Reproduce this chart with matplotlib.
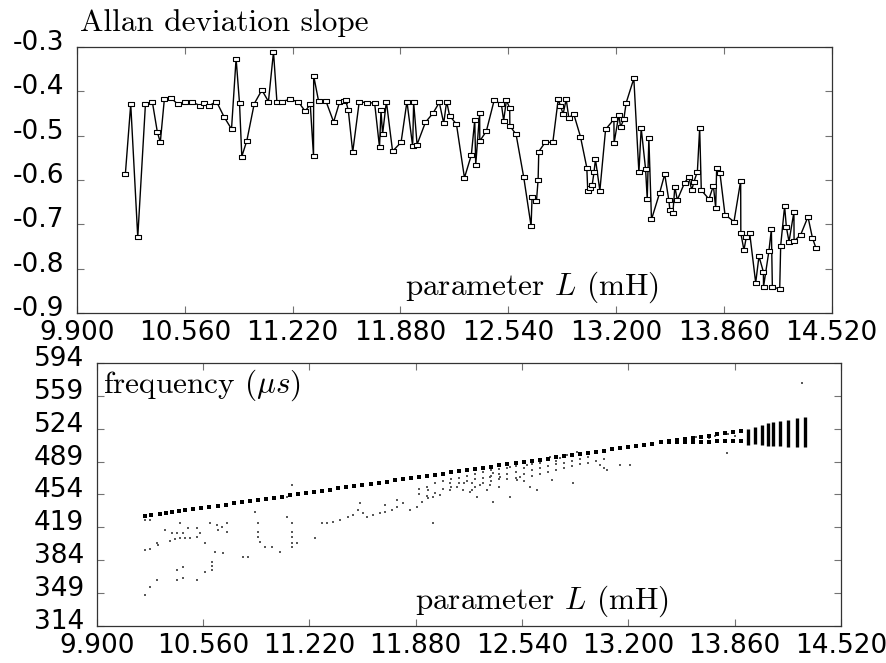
'''
Allan deviation slope and frequency vs parameter L
'''

import matplotlib as mpl
import matplotlib.pyplot as plt
from matplotlib.path import Path
from matplotlib.transforms import ScaledTranslation

mpl.rcParams['mathtext.fontset'] = 'cm'
mpl.rcParams['font.family'] = 'DejaVu Sans'
mpl.rcParams['axes.unicode_minus'] = False

# x ticks shared by both panels
x_ticks = [9.90, 10.56, 11.22, 11.88, 12.54, 13.20, 13.86, 14.52]
x_ticklabels = ['9.900', '10.560', '11.220', '11.880', '12.540', '13.200', '13.860', '14.520']

# top panel: Allan deviation slope
slope_ticks = [-0.9, -0.8, -0.7, -0.6, -0.5, -0.4, -0.3]
slope_ticklabels = ['-0.9', '-0.8', '-0.7', '-0.6', '-0.5', '-0.4', '-0.3']

L_slope = [10.196, 10.229, 10.272, 10.319, 10.361, 10.392, 10.410, 10.435, 10.476, 10.517,
           10.562, 10.607, 10.654, 10.680, 10.711, 10.754, 10.801, 10.846, 10.874, 10.895,
           10.909, 10.940, 10.985, 11.032, 11.072, 11.103, 11.124, 11.154, 11.205, 11.256,
           11.297, 11.328, 11.348, 11.349, 11.379, 11.424, 11.471, 11.507, 11.533, 11.544,
           11.561, 11.588, 11.628, 11.675, 11.722, 11.752, 11.761, 11.771, 11.794, 11.832,
           11.884, 11.920, 11.955, 11.961, 11.982, 12.033, 12.080, 12.118, 12.145, 12.163,
           12.181, 12.223, 12.272, 12.314, 12.335, 12.341, 12.365, 12.366, 12.406, 12.454,
           12.498, 12.512, 12.529, 12.549, 12.550, 12.588, 12.635, 12.680, 12.686, 12.713,
           12.723, 12.727, 12.766, 12.813, 12.846, 12.860, 12.876, 12.895, 12.911, 12.941,
           12.982, 13.021, 13.027, 13.039, 13.054, 13.065, 13.074, 13.101, 13.136, 13.187,
           13.188, 13.217, 13.228, 13.248, 13.262, 13.309, 13.340, 13.354, 13.381, 13.391,
           13.401, 13.417, 13.467, 13.498, 13.523, 13.530, 13.548, 13.560, 13.575, 13.620,
           13.646, 13.663, 13.677, 13.698, 13.712, 13.722, 13.769, 13.796, 13.810, 13.816,
           13.836, 13.867, 13.922, 13.963, 13.964, 13.983, 13.998, 14.018, 14.055, 14.075,
           14.102, 14.103, 14.136, 14.151, 14.157, 14.202, 14.208, 14.232, 14.243, 14.259,
           14.289, 14.290, 14.331, 14.375, 14.402, 14.424]
slope = [-0.587, -0.429, -0.729, -0.429, -0.423, -0.492, -0.515, -0.417, -0.415, -0.429,
         -0.425, -0.425, -0.432, -0.426, -0.432, -0.423, -0.458, -0.485, -0.326, -0.427,
         -0.547, -0.511, -0.428, -0.397, -0.423, -0.311, -0.424, -0.423, -0.418, -0.424,
         -0.445, -0.429, -0.546, -0.365, -0.422, -0.422, -0.469, -0.425, -0.422, -0.419,
         -0.443, -0.537, -0.423, -0.426, -0.426, -0.526, -0.443, -0.496, -0.423, -0.535,
         -0.515, -0.423, -0.524, -0.425, -0.520, -0.470, -0.449, -0.425, -0.472, -0.423,
         -0.455, -0.474, -0.595, -0.544, -0.465, -0.566, -0.448, -0.512, -0.490, -0.420,
         -0.429, -0.466, -0.420, -0.438, -0.478, -0.497, -0.594, -0.704, -0.638, -0.647,
         -0.599, -0.536, -0.515, -0.515, -0.418, -0.433, -0.451, -0.418, -0.460, -0.451,
         -0.502, -0.572, -0.624, -0.617, -0.611, -0.583, -0.553, -0.624, -0.486, -0.463,
         -0.517, -0.453, -0.481, -0.462, -0.426, -0.371, -0.583, -0.483, -0.576, -0.643,
         -0.506, -0.689, -0.629, -0.587, -0.645, -0.668, -0.675, -0.615, -0.645, -0.606,
         -0.593, -0.623, -0.604, -0.581, -0.483, -0.623, -0.643, -0.613, -0.663, -0.574,
         -0.584, -0.678, -0.694, -0.602, -0.720, -0.758, -0.728, -0.719, -0.832, -0.772,
         -0.807, -0.841, -0.760, -0.711, -0.841, -0.846, -0.748, -0.659, -0.707, -0.739,
         -0.672, -0.738, -0.723, -0.683, -0.730, -0.754]

# bottom panel: frequency
freq_ticks = [314, 349, 384, 419, 454, 489, 524, 559, 594]
freq_ticklabels = ['314', '349', '384', '419', '454', '489', '524', '559', '594']

# main branch of the frequency
L_main = [10.20, 10.24, 10.29, 10.33, 10.37, 10.41, 10.45, 10.50, 10.55, 10.60,
          10.65, 10.70, 10.75, 10.80, 10.85, 10.90, 10.95, 11.00, 11.05, 11.10,
          11.15, 11.20, 11.25, 11.30, 11.35, 11.40, 11.45, 11.50, 11.55, 11.60,
          11.65, 11.70, 11.75, 11.80, 11.85, 11.90, 11.95, 12.00, 12.05, 12.10,
          12.15, 12.20, 12.25, 12.30, 12.35, 12.40, 12.45, 12.50, 12.55, 12.60,
          12.65, 12.70, 12.75, 12.80, 12.85, 12.90, 12.95, 13.00, 13.05, 13.10,
          13.15, 13.20, 13.25, 13.30, 13.35, 13.40]
freq_main = [431.0, 432.0, 433.2, 434.2, 435.2, 436.1, 437.1, 438.4, 439.6, 440.8,
             442.0, 443.3, 444.5, 445.7, 446.9, 448.2, 449.4, 450.6, 451.8, 453.1,
             454.3, 455.5, 456.7, 458.0, 459.2, 460.4, 461.6, 462.9, 464.1, 465.3,
             466.5, 467.8, 469.0, 470.2, 471.4, 472.7, 473.9, 475.1, 476.3, 477.6,
             478.8, 480.0, 481.2, 482.5, 483.7, 484.9, 486.1, 487.4, 488.6, 489.8,
             491.0, 492.3, 493.5, 494.7, 495.9, 497.2, 498.4, 499.6, 500.8, 502.1,
             503.3, 504.5, 505.7, 507.0, 508.2, 509.4]

# after the split: upper and lower branch
L_split = [13.45, 13.50, 13.55, 13.60, 13.65, 13.70, 13.75, 13.80, 13.85, 13.90]
freq_upper = [510.6, 511.8, 513.0, 514.3, 515.5, 516.7, 517.9, 519.1, 520.3, 521.5]
freq_lower = [509.6, 509.8, 510.0, 510.1, 510.3, 510.4, 510.6, 510.7, 510.9, 511.0]

# dense columns at the end of the sweep
L_cols = [13.944, 13.987, 14.030, 14.068, 14.099, 14.142, 14.192, 14.248, 14.298]
col_lo = [507, 508, 507, 506, 506, 506, 505, 505, 505]
col_hi = [524, 526, 528, 530, 531, 532, 533, 535, 536]

# weaker secondary peaks
L_sec = [10.200, 10.231, 10.200, 10.231, 10.200, 10.231, 10.272, 10.276, 10.283, 10.324,
         10.365, 10.397, 10.417, 10.438, 10.469, 10.521, 10.541, 10.355, 10.386, 10.417,
         10.448, 10.479, 10.521, 10.572, 10.397, 10.438, 10.397, 10.438, 10.521, 10.572,
         10.614, 10.614, 10.614, 10.635, 10.686, 10.604, 10.645, 10.655, 10.676, 10.707,
         10.707, 10.810, 10.842, 10.883, 10.904, 10.904, 10.904, 10.914, 10.945, 10.986,
         11.038, 11.080, 11.080, 11.111, 11.111, 11.111, 11.111, 11.111, 11.142, 11.111,
         11.255, 11.297, 11.328, 11.369, 11.411, 11.462, 11.494, 11.525, 11.535, 11.556,
         11.576, 11.618, 11.659, 11.690, 11.690, 11.732, 11.763, 11.763, 11.804, 11.845,
         11.887, 11.918, 11.959, 11.959, 11.990, 11.990, 12.032, 12.094, 12.094, 12.135,
         12.177, 12.228, 12.228, 12.280, 12.176, 12.218, 12.259, 12.321, 12.342, 12.342,
         12.363, 12.363, 12.404, 12.466, 12.466, 12.507, 12.528, 12.570, 12.590, 12.632,
         12.652, 12.714, 12.725, 12.777, 12.818, 12.859, 12.880, 13.025, 13.066, 13.149,
         13.211, 13.811, 13.500, 13.620, 13.740, 13.820, 13.860, 14.277,
         11.90, 11.90, 11.95, 11.95, 12.00, 12.00, 12.05, 12.05, 12.10, 12.10,
         12.15, 12.15, 12.20, 12.20, 12.25, 12.25, 12.25, 12.30, 12.30, 12.30,
         12.35, 12.35, 12.35, 12.40, 12.40, 12.40, 12.40, 12.45, 12.45, 12.45,
         12.50, 12.50, 12.50, 12.55, 12.55, 12.55, 12.60, 12.60, 12.60, 12.65,
         12.65, 12.65, 12.70, 12.70, 12.75, 12.75, 12.75, 12.80, 12.80, 12.85,
         12.85, 12.90, 12.90, 12.95, 12.95, 13.00, 13.05, 13.05, 13.55, 13.70]
freq_sec = [426.8, 426.8, 394.9, 396.0, 347.0, 355.9, 363.0, 402.7, 400.2, 416.2,
            413.4, 413.4, 423.3, 413.4, 418.0, 418.0, 413.4, 404.8, 406.3, 407.3,
            407.3, 407.3, 409.1, 402.0, 373.6, 377.2, 363.0, 364.7, 363.0, 371.8,
            373.6, 377.9, 382.1, 393.1, 391.4, 423.3, 421.5, 416.2, 419.8, 423.3,
            414.4, 387.8, 387.8, 435.7, 423.3, 414.4, 409.1, 403.8, 398.5, 398.5,
            393.1, 451.7, 430.4, 423.3, 414.4, 409.1, 402.0, 398.5, 402.0, 464.1,
            407.3, 423.3, 424.0, 425.1, 426.8, 430.4, 432.2, 437.5, 444.6, 434.0,
            430.4, 432.2, 434.0, 435.0, 442.8, 437.5, 441.0, 448.1, 444.6, 437.5,
            441.0, 446.4, 449.9, 458.8, 451.7, 423.3, 453.5, 458.8, 465.9, 462.3,
            465.9, 465.9, 458.8, 464.1, 458.8, 457.0, 451.7, 458.8, 464.1, 473.0,
            446.4, 476.5, 473.0, 451.7, 483.6, 469.4, 473.0, 485.4, 462.3, 458.8,
            490.7, 494.3, 469.4, 492.5, 496.0, 465.9, 499.6, 485.4, 480.1, 485.4,
            485.4, 497.8, 512.5, 515.0, 516.5, 518.0, 516.0, 572.4,
            455.0, 460.0, 452.0, 462.0, 456.0, 466.0, 460.0, 468.0, 462.0, 470.0,
            466.0, 472.0, 468.0, 474.0, 462.0, 470.0, 476.0, 466.0, 472.0, 478.0,
            468.0, 474.0, 480.0, 462.0, 470.0, 476.0, 481.0, 470.0, 476.0, 482.0,
            472.0, 478.0, 484.0, 468.0, 476.0, 482.0, 474.0, 480.0, 486.0, 476.0,
            482.0, 488.0, 478.0, 484.0, 480.0, 486.0, 490.0, 482.0, 488.0, 484.0,
            490.0, 486.0, 492.0, 488.0, 494.0, 490.0, 482.0, 492.0, 513.5, 514.5]

fig = plt.figure(figsize=(8.87, 6.63), dpi=100)
ax1 = fig.add_axes([0.0868, 0.5279, 0.8508, 0.4012])
ax2 = fig.add_axes([0.1090, 0.0558, 0.8391, 0.3967])

# small open rectangle marker
rect = Path([(-1, -0.6), (1, -0.6), (1, 0.6), (-1, 0.6), (-1, -0.6)],
            [Path.MOVETO, Path.LINETO, Path.LINETO, Path.LINETO, Path.CLOSEPOLY])

ax1.plot(L_slope, slope, '-k', linewidth=1.0,
         marker=rect, markersize=5.0, markerfacecolor='white',
         markeredgecolor='black', markeredgewidth=0.8)

ax2.scatter(L_sec, freq_sec, s=1.5, marker='s', color='0.35', linewidths=0)
ax2.vlines(L_cols, col_lo, col_hi, colors='black', linewidth=2.4)
ax2.scatter(L_main, freq_main, s=6, marker='s', color='black', linewidths=0)
ax2.scatter(L_split, freq_upper, s=6, marker='s', color='black', linewidths=0)
ax2.scatter(L_split, freq_lower, s=6, marker='s', color='black', linewidths=0)

serif = dict(family='cmr10', fontsize=22.5)

ax1.set_xlim(9.9, 14.52)
ax1.set_ylim(-0.9, -0.3)
ax1.set_xticks(x_ticks)
ax1.set_xticklabels(x_ticklabels)
ax1.set_yticks(slope_ticks)
ax1.set_yticklabels(slope_ticklabels)
ax1.text(0.4346, 0.068, r'parameter $L$ (mH)', transform=ax1.transAxes,
         va='baseline', ha='left', **serif)
fig.text(0.0902, 0.953, 'Allan deviation slope', va='baseline', ha='left', **serif)

ax2.set_xlim(9.9, 14.52)
ax2.set_ylim(314, 594)
ax2.set_xticks(x_ticks)
ax2.set_xticklabels(x_ticklabels)
ax2.set_yticks(freq_ticks)
ax2.set_yticklabels(freq_ticklabels)
ax2.text(0.428, 0.065, r'parameter $L$ (mH)', transform=ax2.transAxes,
         va='baseline', ha='left', **serif)
ax2.text(0.008, 0.885, r'frequency ($\mu s$)', transform=ax2.transAxes,
         va='baseline', ha='left', **serif)

shift = ScaledTranslation(0, 7 / 100, fig.dpi_scale_trans)
for ax in (ax1, ax2):
    ax.tick_params(direction='in', top=True, right=True, length=5, width=0.8,
                   color='0.45', labelsize=19, pad=5)
    ax.tick_params(axis='y', pad=9)
    for sp in ax.spines.values():
        sp.set_color('0.2')
        sp.set_linewidth(0.9)
    for lab in ax.get_yticklabels():
        lab.set_transform(lab.get_transform() + shift)

fig.savefig('out.png', dpi=100)
